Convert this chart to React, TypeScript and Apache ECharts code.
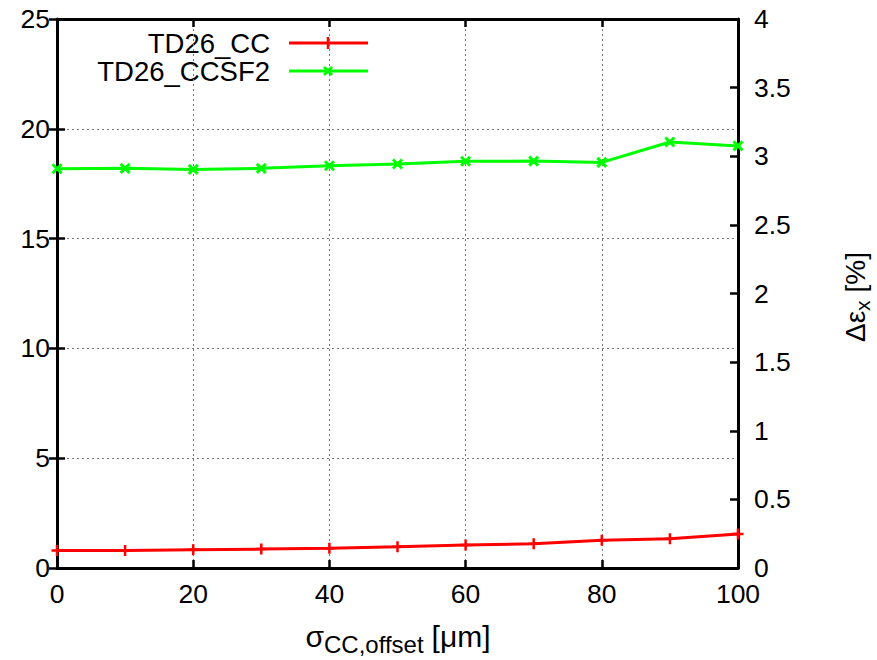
import React, { useEffect, useRef } from "react";
import * as echarts from "echarts";

const xValues = [0, 10, 20, 30, 40, 50, 60, 70, 80, 90, 100];
const ccValues = [0.8, 0.8, 0.83, 0.86, 0.9, 0.97, 1.05, 1.1, 1.26, 1.33, 1.55];
const ccsf2Values = [18.18, 18.2, 18.15, 18.2, 18.32, 18.4, 18.52, 18.53, 18.47, 19.4, 19.22];
const seriesNames = ["TD26_CC", "TD26_CCSF2"];
const seriesColors = ["#ff0000", "#00ff00"];

const PLUS = "path://M0,-5L0,5M-5,0L5,0";
const CROSS = "path://M-5,-5L5,5M-5,5L5,-5";

export default function App() {
  const ref = useRef<HTMLDivElement>(null);
  useEffect(() => {
    const chart = echarts.init(ref.current!, null, { renderer: "svg" });
    const font = "Liberation Sans, Arial, sans-serif";
    const axisLabel = { color: "#000", fontSize: 26.5, fontFamily: font };
    const axisLine = { show: true, onZero: false, lineStyle: { color: "#000", width: 3 } };
    const tick = { show: true, inside: true, length: 8, lineStyle: { color: "#000", width: 2.5 } };
    const legendX = 270;
    chart.setOption({
      animation: false,
      backgroundColor: "#fff",
      grid: { left: 57, right: 139, top: 19, bottom: 92, containLabel: false },
      xAxis: [
        {
          type: "value",
          min: 0,
          max: 100,
          interval: 20,
          axisLine,
          axisTick: tick,
          axisLabel: { ...axisLabel, margin: 12 },
          splitLine: { show: true, lineStyle: { color: "#777", type: [2, 3], width: 1 } },
        },
        {
          type: "value",
          position: "top",
          min: 0,
          max: 100,
          interval: 20,
          axisLine,
          axisTick: tick,
          axisLabel: { show: false },
          splitLine: { show: false },
        },
      ],
      yAxis: [
        {
          type: "value",
          min: 0,
          max: 25,
          interval: 5,
          position: "left",
          axisLine,
          axisTick: tick,
          axisLabel: { ...axisLabel, margin: 7 },
          splitLine: { show: true, lineStyle: { color: "#777", type: [2, 3], width: 1 } },
        },
        {
          type: "value",
          min: 0,
          max: 4,
          interval: 0.5,
          position: "right",
          axisLine,
          axisTick: tick,
          axisLabel: { ...axisLabel, margin: 16 },
          splitLine: { show: false },
        },
        {
          type: "value",
          min: 0,
          max: 25,
          interval: 5,
          position: "right",
          axisLine: { show: false },
          axisTick: tick,
          axisLabel: { show: false },
          splitLine: { show: false },
        },
      ],
      series: [
        {
          name: seriesNames[0],
          type: "line",
          data: xValues.map((x, i) => [x, ccValues[i]]),
          symbol: PLUS,
          symbolSize: 11,
          showAllSymbol: true,
          lineStyle: { color: seriesColors[0], width: 3 },
          itemStyle: { color: seriesColors[0], borderColor: seriesColors[0], borderWidth: 2.5 },
        },
        {
          name: seriesNames[1],
          type: "line",
          data: xValues.map((x, i) => [x, ccsf2Values[i]]),
          symbol: CROSS,
          symbolSize: 9,
          showAllSymbol: true,
          lineStyle: { color: seriesColors[1], width: 3 },
          itemStyle: { color: seriesColors[1], borderColor: seriesColors[1], borderWidth: 3 },
        },
      ],
      graphic: [
        {
          type: "text",
          x: legendX,
          y: 43,
          style: { text: seriesNames[0], fill: "#000", font: `27.5px ${font}`, align: "right", verticalAlign: "middle" },
        },
        {
          type: "text",
          x: legendX,
          y: 71.5,
          style: { text: seriesNames[1], fill: "#000", font: `27.5px ${font}`, align: "right", verticalAlign: "middle" },
        },
        { type: "line", shape: { x1: 289, y1: 43, x2: 368, y2: 43 }, style: { stroke: seriesColors[0], lineWidth: 3 } },
        { type: "line", shape: { x1: 328, y1: 37, x2: 328, y2: 49 }, style: { stroke: seriesColors[0], lineWidth: 2.5 } },
        { type: "line", shape: { x1: 289, y1: 71, x2: 368, y2: 71 }, style: { stroke: seriesColors[1], lineWidth: 3 } },
        { type: "line", shape: { x1: 324, y1: 67, x2: 332, y2: 75 }, style: { stroke: seriesColors[1], lineWidth: 3 } },
        { type: "line", shape: { x1: 324, y1: 75, x2: 332, y2: 67 }, style: { stroke: seriesColors[1], lineWidth: 3 } },
        {
          type: "text",
          x: 398,
          y: 636,
          style: {
            text: "{s|σ}{sub|CC,offset}{u|[μm]}",
            align: "center",
            verticalAlign: "middle",
            rich: {
              s: { fontSize: 30, fontFamily: font, color: "#000" },
              u: { fontSize: 30, fontFamily: font, color: "#000", padding: [0, 0, 0, 8] },
              sub: { fontSize: 24, fontFamily: font, color: "#000", padding: [17, 0, 0, 0] },
            },
          },
        },
        {
          type: "text",
          x: 855,
          y: 297,
          rotation: Math.PI / 2,
          style: {
            text: "{s|Δε}{sub|x}{u|[%]}",
            align: "center",
            verticalAlign: "middle",
            rich: {
              s: { fontSize: 28, fontFamily: font, color: "#000" },
              u: { fontSize: 28, fontFamily: font, color: "#000", padding: [0, 0, 0, 8] },
              sub: { fontSize: 21, fontFamily: font, color: "#000", padding: [15, 0, 0, 0] },
            },
          },
        },
      ],
    });
    return () => chart.dispose();
  }, []);
  return <div ref={ref} style={{ width: 877, height: 660, position: "absolute", left: 0, top: 0 }} />;
}
